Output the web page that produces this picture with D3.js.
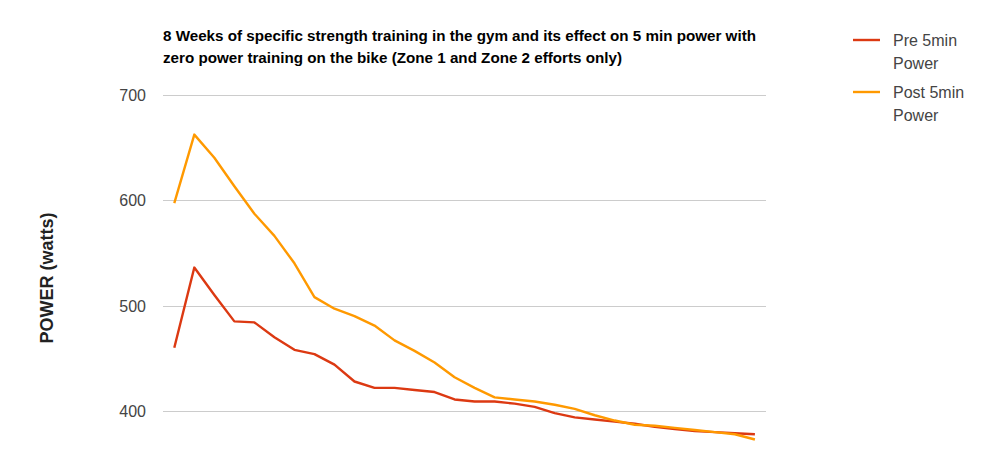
<!DOCTYPE html>
<html lang="en">
<head>
  <meta charset="UTF-8" />
  <title>5 min power</title>
  <script src="https://d3js.org/d3.v7.min.js"></script>
  <style>
    body { margin: 0; padding: 0; background: #fff; }
    svg { font-family: Arial, "Liberation Sans", Helvetica, sans-serif; }
    .grid line { stroke: #cccccc; stroke-width: 1px; }
    .tick-label { font-size: 16px; fill: #444; text-anchor: end; }
    .legend-text { font-size: 16px; fill: #444; }
  </style>
</head>
<body>
  <svg width="1000" height="474"></svg>
  <script>
    // weeks of data (30 samples, no x labels shown)
    const samples = d3.range(30);
    const preValues = [460, 536, 510, 485, 484, 470, 458, 454, 444, 428,
                       422, 422, 420, 418, 411, 409, 409, 407, 404, 398,
                       394, 392, 390, 388, 385, 383, 381, 380, 379, 378];
    const postValues = [597, 662, 640, 613, 587, 566, 540, 508, 497, 490,
                        481, 467, 457, 446, 432, 422, 413, 411, 409, 406,
                        402, 396, 391, 387, 386, 384, 382, 380, 378, 373];
    const yTicks = [400, 500, 600, 700];
    const seriesNames = [["Pre 5min", "Power"], ["Post 5min", "Power"]];
    const colors = ["#dc3912", "#ff9900"];

    const svg = d3.select("svg");
    const plot = { left: 163, right: 766, top: 94.5, bottom: 463.8 };

    const x = d3.scaleLinear()
      .domain([0, samples.length - 1])
      .range([174.3, 754.9]);
    const y = d3.scaleLinear()
      .domain([350, 700])
      .range([plot.bottom, plot.top]);

    // gridlines
    const grid = svg.append("g").attr("class", "grid");
    grid.selectAll("line")
      .data(yTicks)
      .join("line")
      .attr("x1", plot.left)
      .attr("x2", plot.right)
      .attr("y1", d => Math.round(y(d)) + 0.5)
      .attr("y2", d => Math.round(y(d)) + 0.5);

    svg.append("g").selectAll("text")
      .data(yTicks)
      .join("text")
      .attr("class", "tick-label")
      .attr("x", 146)
      .attr("y", d => y(d) + 6)
      .text(d => d);

    // axis title
    svg.append("text")
      .attr("transform", "translate(53,278) rotate(-90)")
      .attr("text-anchor", "middle")
      .style("font-size", "18px")
      .style("font-weight", "bold")
      .style("fill", "#222")
      .text("POWER (watts)");

    // chart title
    const title = svg.append("text")
      .style("font-size", "15.2px")
      .style("font-weight", "bold")
      .style("fill", "#000");
    title.append("tspan").attr("x", 163).attr("y", 41)
      .text("8 Weeks of specific strength training in the gym and its effect on 5 min power with");
    title.append("tspan").attr("x", 163).attr("y", 63)
      .text("zero power training on the bike (Zone 1 and Zone 2 efforts only)");

    // lines
    const line = d3.line()
      .x((d, i) => x(samples[i]))
      .y(d => y(d));

    [preValues, postValues].forEach((vals, k) => {
      svg.append("path")
        .datum(vals)
        .attr("fill", "none")
        .attr("stroke", colors[k])
        .attr("stroke-width", 2.4)
        .attr("stroke-linejoin", "round")
        .attr("d", line);
    });

    // legend
    const legend = svg.append("g");
    seriesNames.forEach((name, k) => {
      const ly = 40 + k * 52;
      legend.append("line")
        .attr("x1", 853).attr("x2", 880)
        .attr("y1", ly).attr("y2", ly)
        .attr("stroke", colors[k])
        .attr("stroke-width", 2.4);
      const t = legend.append("text").attr("class", "legend-text");
      t.append("tspan").attr("x", 893).attr("y", ly + 6).text(name[0]);
      t.append("tspan").attr("x", 893).attr("y", ly + 29).text(name[1]);
    });
  </script>
</body>
</html>
